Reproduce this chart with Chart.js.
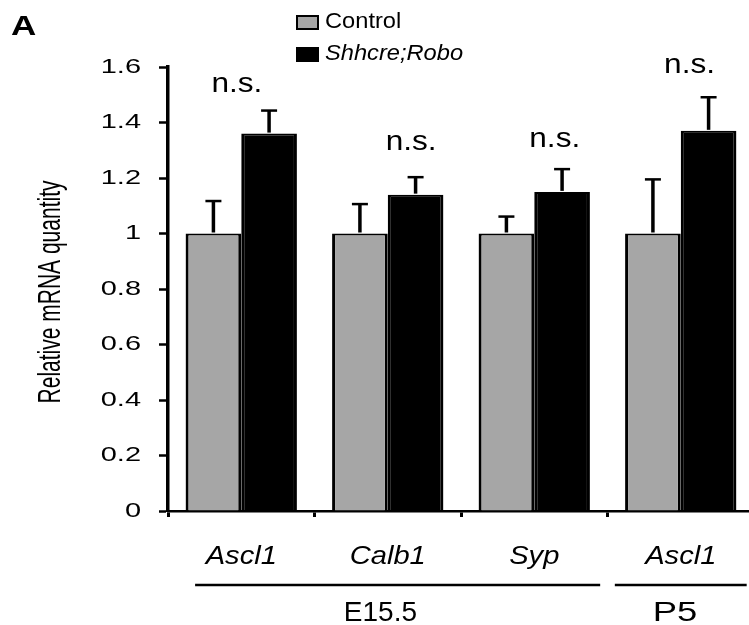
<!DOCTYPE html>
<html>
<head>
<meta charset="utf-8">
<script src="https://cdn.jsdelivr.net/npm/chart.js@4"></script>
<style>
  html, body { margin: 0; padding: 0; background: #fff; overflow: hidden; }
  canvas { display: block; }
</style>
</head>
<body>
<canvas id="chart" width="760" height="625"></canvas>
<script>
/* Relative mRNA quantity — Control vs Shhcre;Robo */

const genes       = ['Ascl1', 'Calb1', 'Syp', 'Ascl1'];
const controlVals = [1, 1, 1, 1];
const controlErr  = [0.117, 0.106, 0.061, 0.195];
const roboVals    = [1.36, 1.14, 1.15, 1.37];
const roboErr     = [0.083, 0.063, 0.082, 0.121];
const sigLabels   = ['n.s.', 'n.s.', 'n.s.', 'n.s.'];
const sigLevels   = [1.511, 1.30, 1.311, 1.577];
const stageNames  = ['E15.5', 'P5'];
const stageSpans  = [[0, 2], [3, 3]];

const FONT = "'Liberation Sans', Arial, Helvetica, sans-serif";

// the source figure is stretched sideways, so text gets a horizontal scale
function wideText(ctx, text, x, y, sx, font, align, baseline) {
  ctx.save();
  ctx.font = font;
  ctx.textAlign = align;
  ctx.textBaseline = baseline;
  ctx.translate(x, y);
  ctx.scale(sx, 1);
  ctx.fillText(text, 0, 0);
  ctx.restore();
}

// error bars (upward only) drawn from the bar elements
const errorBars = {
  id: 'errorBars',
  afterDatasetsDraw(chart) {
    const ctx = chart.ctx;
    const y = chart.scales.y;
    const errs = [controlErr, roboErr];
    ctx.save();
    ctx.strokeStyle = '#000';
    chart.data.datasets.forEach((ds, di) => {
      chart.getDatasetMeta(di).data.forEach((bar, i) => {
        const top = y.getPixelForValue(ds.data[i]);
        const cap = y.getPixelForValue(ds.data[i] + errs[di][i]);
        ctx.lineWidth = 3.5;
        ctx.beginPath();
        ctx.moveTo(bar.x, top - 1);
        ctx.lineTo(bar.x, cap);
        ctx.stroke();
        ctx.lineWidth = 2.5;
        ctx.beginPath();
        ctx.moveTo(bar.x - 8, cap);
        ctx.lineTo(bar.x + 8, cap);
        ctx.stroke();
      });
    });
    ctx.restore();
  }
};

// axis texts, n.s. marks, stage brackets, legend and panel letter
const annotations = {
  id: 'annotations',
  afterDraw(chart) {
    const ctx = chart.ctx;
    const x = chart.scales.x;
    const y = chart.scales.y;
    const w = x.getPixelForValue(1) - x.getPixelForValue(0);
    ctx.save();
    ctx.fillStyle = '#000';

    // y tick labels
    y.ticks.forEach(t => {
      wideText(ctx, String(t.value), 141, y.getPixelForValue(t.value), 1.38, '21px ' + FONT, 'right', 'middle');
    });

    // y title
    ctx.save();
    ctx.font = '21px ' + FONT;
    ctx.textAlign = 'center';
    ctx.textBaseline = 'middle';
    ctx.translate(52, 292);
    ctx.scale(1.45, 1);
    ctx.rotate(-Math.PI / 2);
    ctx.fillText('Relative mRNA quantity', 0, 0);
    ctx.restore();

    // category labels
    genes.forEach((g, i) => {
      wideText(ctx, g, x.getPixelForValue(i), 564, 1.12, 'italic 26px ' + FONT, 'center', 'alphabetic');
    });

    // n.s. marks
    const nsShift = [-0.03, 0.16, 0.14, 0.06];
    sigLabels.forEach((t, i) => {
      wideText(ctx, t, x.getPixelForValue(i) + nsShift[i] * w, y.getPixelForValue(sigLevels[i]), 1.17, '27px ' + FONT, 'center', 'alphabetic');
    });

    // stage lines + labels
    ctx.strokeStyle = '#000';
    ctx.lineWidth = 2.5;
    stageSpans.forEach((s, k) => {
      const x0 = x.getPixelForValue(s[0]) - (k === 0 ? 0.315 : 0.45) * w;
      const x1 = x.getPixelForValue(s[1]) + 0.45 * w;
      ctx.beginPath();
      ctx.moveTo(x0, 585);
      ctx.lineTo(x1, 585);
      ctx.stroke();
    });
    wideText(ctx, stageNames[0], x.getPixelForValue(1) - 0.05 * w, 621, 1.0, '28px ' + FONT, 'center', 'alphabetic');
    wideText(ctx, stageNames[1], x.getPixelForValue(3) - 0.04 * w, 621, 1.3, '28px ' + FONT, 'center', 'alphabetic');

    // legend
    ctx.fillStyle = '#a6a6a6';
    ctx.fillRect(297, 16, 21, 13);
    ctx.lineWidth = 2;
    ctx.strokeRect(297, 16, 21, 13);
    ctx.fillStyle = '#000';
    ctx.fillRect(296, 47, 23, 15);
    wideText(ctx, 'Control', 325, 28, 1.1, '21.5px ' + FONT, 'left', 'alphabetic');
    wideText(ctx, 'Shhcre;Robo', 325, 60, 1.1, 'italic 21.5px ' + FONT, 'left', 'alphabetic');

    // panel letter
    wideText(ctx, 'A', 11, 35, 1.25, 'bold 28px ' + FONT, 'left', 'alphabetic');
    ctx.restore();
  }
};

new Chart(document.getElementById('chart'), {
  type: 'bar',
  data: {
    labels: genes,
    datasets: [
      { label: 'Control', data: controlVals, backgroundColor: '#a6a6a6', borderColor: '#000',
        borderWidth: { top: 2, left: 3, right: 3, bottom: 0 } },
      { label: 'Shhcre;Robo', data: roboVals, backgroundColor: '#000', borderColor: '#000',
        borderWidth: { top: 2, left: 3, right: 3, bottom: 0 } }
    ]
  },
  options: {
    responsive: false,
    animation: false,
    devicePixelRatio: 1,
    categoryPercentage: 0.76,
    barPercentage: 1.0,
    layout: { padding: { top: 67, right: 6, left: 0, bottom: 0 } },
    plugins: { legend: { display: false }, tooltip: { enabled: false } },
    scales: {
      x: {
        afterFit(s) { s.height = 114; },
        grid: { drawOnChartArea: false, tickLength: 6, tickColor: '#000', tickWidth: 3, offset: true },
        border: { color: '#000', width: 2.5 },
        ticks: { display: false }
      },
      y: {
        min: 0,
        max: 1.6,
        afterFit(s) { s.width = 168; },
        grid: { drawOnChartArea: false, tickLength: 9, tickColor: '#000', tickWidth: 2.5 },
        border: { color: '#000', width: 3.5 },
        ticks: { stepSize: 0.2, display: false }
      }
    }
  },
  plugins: [errorBars, annotations]
});
</script>
</body>
</html>
